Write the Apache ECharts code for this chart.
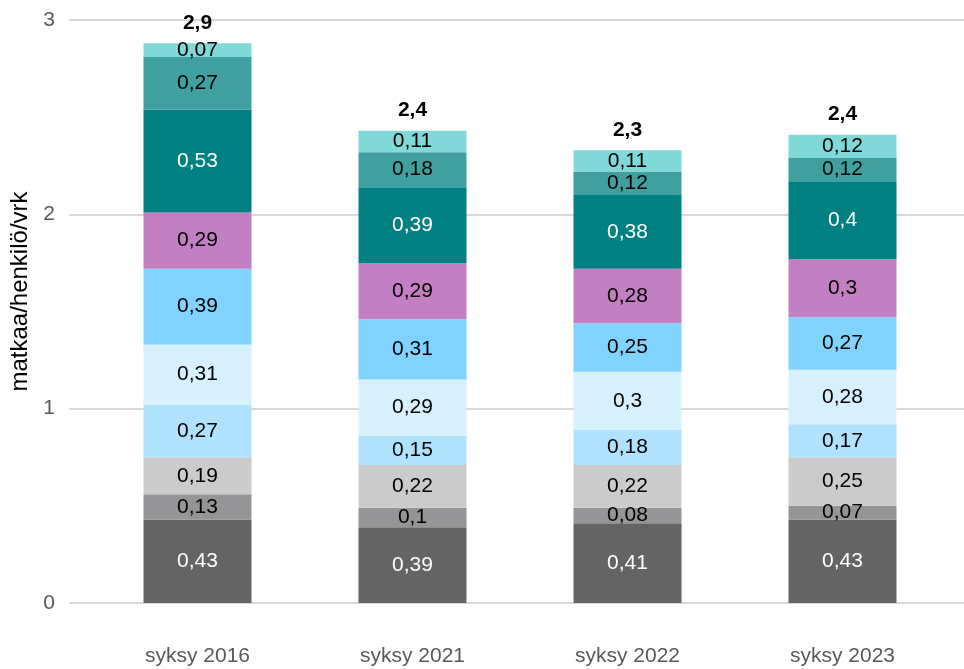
<!DOCTYPE html>
<html>
<head>
<meta charset="utf-8">
<script src="https://cdn.jsdelivr.net/npm/echarts@6/dist/echarts.min.js"></script>
<style>
  html, body { margin: 0; padding: 0; background: #fff; }
  #chart { width: 964px; height: 669px; }
</style>
</head>
<body>
<div id="chart"></div>
<script>
const categories = ['syksy 2016', 'syksy 2021', 'syksy 2022', 'syksy 2023']

// pinon osat alhaalta ylös
const s1 = [0.43, 0.39, 0.41, 0.43]
const s2 = [0.13, 0.1, 0.08, 0.07]
const s3 = [0.19, 0.22, 0.22, 0.25]
const s4 = [0.27, 0.15, 0.18, 0.17]
const s5 = [0.31, 0.29, 0.3, 0.28]
const s6 = [0.39, 0.31, 0.25, 0.27]
const s7 = [0.29, 0.29, 0.28, 0.3]
const s8 = [0.53, 0.39, 0.38, 0.4]
const s9 = [0.27, 0.18, 0.12, 0.12]
const s10 = [0.07, 0.11, 0.11, 0.12]
const totals = [2.9, 2.4, 2.3, 2.4]

const yTicks = [0, 1, 2, 3]

const layers = [
  { data: s1, color: '#646464', text: '#ffffff' },
  { data: s2, color: '#959598', text: '#000000' },
  { data: s3, color: '#cbcbcb', text: '#000000' },
  { data: s4, color: '#b0e2fd', text: '#000000' },
  { data: s5, color: '#d6f0fd', text: '#000000' },
  { data: s6, color: '#80d2ff', text: '#000000' },
  { data: s7, color: '#c27fc2', text: '#000000' },
  { data: s8, color: '#008080', text: '#ffffff' },
  { data: s9, color: '#40a0a0', text: '#000000' },
  { data: s10, color: '#80d8d8', text: '#000000' }
]

const fmt = v => String(v).replace('.', ',')
const font = '"Liberation Sans", Arial, sans-serif'

const series = layers.map(e => ({
  type: 'bar',
  stack: 'total',
  xAxisIndex: 1,
  yAxisIndex: 1,
  barWidth: 108,
  data: e.data,
  itemStyle: { color: e.color },
  label: {
    show: true,
    position: 'inside',
    color: e.text,
    fontSize: 21,
    fontFamily: font,
    formatter: p => fmt(p.value)
  }
}))

// summarivi pinon päälle
series.push({
  type: 'bar',
  stack: 'total',
  xAxisIndex: 1,
  yAxisIndex: 1,
  barWidth: 108,
  data: totals.map(() => 0),
  itemStyle: { color: 'transparent' },
  label: {
    show: true,
    position: 'top',
    distance: 10,
    color: '#000000',
    fontSize: 21,
    fontWeight: 'bold',
    fontFamily: font,
    formatter: p => fmt(totals[p.dataIndex])
  }
})

const chart = echarts.init(document.getElementById('chart'))
chart.setOption({
  animation: false,
  textStyle: { fontFamily: font },
  grid: [
    { left: 69, right: 0, top: 20, bottom: 66 },
    { left: 90, right: 14, top: 20, bottom: 66 }
  ],
  xAxis: [
    { type: 'value', gridIndex: 0, show: false, min: 0, max: 1 },
    {
      type: 'category',
      gridIndex: 1,
      data: categories,
      axisLine: { show: false },
      axisTick: { show: false },
      axisLabel: { color: '#595959', fontSize: 21, margin: 43, fontFamily: font }
    }
  ],
  yAxis: [
    {
      type: 'value',
      gridIndex: 0,
      min: yTicks[0],
      max: yTicks[yTicks.length - 1],
      interval: 1,
      name: 'matkaa/henkilö/vrk',
      nameLocation: 'middle',
      nameGap: 29,
      nameTextStyle: { color: '#000000', fontSize: 24, fontFamily: font, padding: [0, 0, 0, 40] },
      axisLine: { show: false },
      axisTick: { show: false },
      axisLabel: { color: '#595959', fontSize: 21, margin: 14, fontFamily: font },
      splitLine: { lineStyle: { color: '#d9d9d9', width: 2 } }
    },
    {
      type: 'value',
      gridIndex: 1,
      min: yTicks[0],
      max: yTicks[yTicks.length - 1],
      interval: 1,
      show: false,
      splitLine: { show: false }
    }
  ],
  series
})
</script>
</body>
</html>
